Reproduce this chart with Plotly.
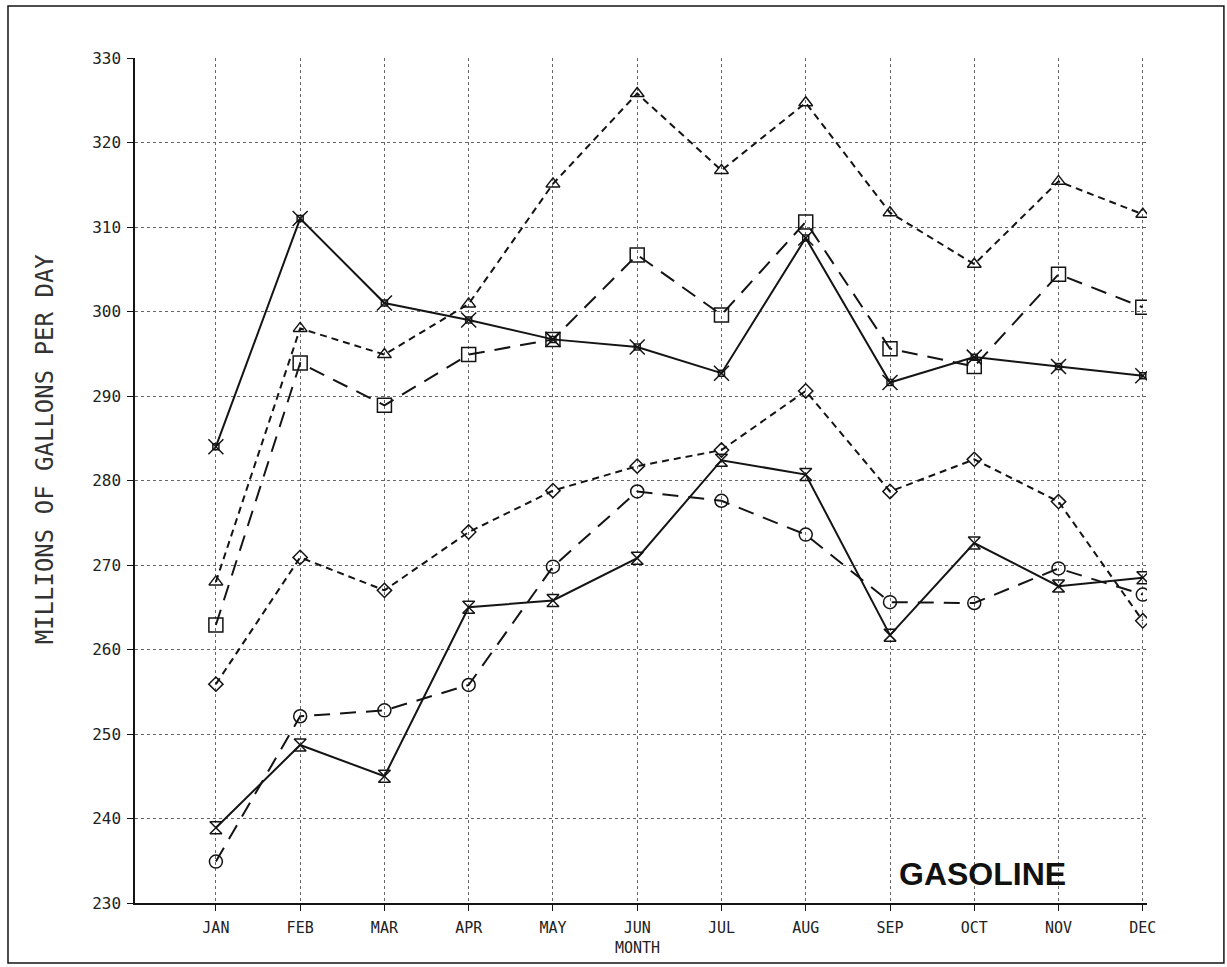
import plotly.graph_objects as go

months = ["JAN", "FEB", "MAR", "APR", "MAY", "JUN", "JUL", "AUG", "SEP", "OCT", "NOV", "DEC"]
month_pos = [1, 2, 3, 4, 5, 6, 7, 8, 9, 10, 11, 12]

star_solid = [284, 311, 301, 299, 296.7, 295.8, 292.7, 308.7, 291.6, 294.6, 293.5, 292.4]
triangle_dash = [268, 298, 294.9, 300.9, 315.1, 325.8, 316.7, 324.7, 311.7, 305.6, 315.4, 311.5]
square_longdash = [262.9, 293.9, 288.9, 294.9, 296.7, 306.7, 299.6, 310.6, 295.6, 293.5, 304.4, 300.5]
diamond_dash = [255.9, 270.9, 267.0, 273.9, 278.8, 281.7, 283.6, 290.6, 278.7, 282.5, 277.5, 263.4]
circle_longdash = [234.9, 252.1, 252.8, 255.8, 269.8, 278.7, 277.6, 273.6, 265.6, 265.5, 269.6, 266.5]
hourglass_solid = [238.9, 248.7, 245.0, 265.0, 265.8, 270.8, 282.4, 280.7, 261.7, 272.6, 267.5, 268.5]

y_ticks = [230, 240, 250, 260, 270, 280, 290, 300, 310, 320, 330]

INK = "#141414"
SHORT = "7px,5px"
LONG = "16px,10px"

fig = go.Figure()

def add(series, dash, symbol, size, name):
    fig.add_trace(go.Scatter(
        x=month_pos, y=series, mode="lines+markers", name=name,
        line=dict(color=INK, width=2, dash=dash),
        marker=dict(symbol=symbol, size=size, color=INK, line=dict(color=INK, width=1.5)),
        showlegend=False,
    ))

add(triangle_dash, SHORT, "triangle-up-open", 12, "triangle")
add(square_longdash, LONG, "square-open", 14, "square")
add(diamond_dash, SHORT, "diamond-open", 11, "diamond")
add(circle_longdash, LONG, "circle-open", 13, "circle")
add(hourglass_solid, "solid", "hourglass-open", 12, "hourglass")
add(star_solid, "solid", "x-thin-open", 15, "star")
fig.add_trace(go.Scatter(
    x=month_pos, y=star_solid, mode="markers", showlegend=False,
    marker=dict(symbol="square-open", size=6, color=INK, line=dict(color=INK, width=1.5)),
))

fig.update_layout(
    width=1227, height=967,
    margin=dict(l=135, r=80, t=58, b=64),
    paper_bgcolor="white", plot_bgcolor="white",
    font=dict(family="DejaVu Sans Mono", size=15, color="#222"),
    xaxis=dict(
        range=[0.04, 12.05], tickmode="array", tickvals=month_pos, ticktext=months,
        showgrid=True, gridcolor="#666", griddash="dot", gridwidth=1,
        showline=True, linecolor=INK, linewidth=1.5,
        ticks="outside", ticklen=6, tickcolor=INK, zeroline=False,
        ticklabelstandoff=4,
        tickfont=dict(family="DejaVu Sans Mono", size=15, color="#222"),
    ),
    yaxis=dict(
        range=[230, 330], tickmode="array", tickvals=y_ticks,
        showgrid=True, gridcolor="#666", griddash="dot", gridwidth=1,
        showline=True, linecolor=INK, linewidth=1.5,
        ticks="outside", ticklen=6, tickcolor=INK, zeroline=False,
        ticklabelstandoff=3,
        tickfont=dict(family="DejaVu Sans Mono", size=16, color="#222"),
    ),
)

fig.add_annotation(
    text="MILLIONS OF GALLONS PER DAY", textangle=-90,
    xref="paper", yref="paper", x=-0.089, y=0.538, showarrow=False,
    xanchor="center", yanchor="middle",
    font=dict(family="DejaVu Sans Mono", size=24, color="#333"),
)
fig.add_annotation(
    text="MONTH", xref="paper", yref="paper", x=0.497, y=-0.053, showarrow=False,
    xanchor="center", yanchor="middle",
    font=dict(family="DejaVu Sans Mono", size=15, color="#222"),
)
fig.add_annotation(
    text="<b>GASOLINE</b>", xref="paper", yref="paper", x=0.837, y=0.034, showarrow=False,
    xanchor="center", yanchor="middle",
    font=dict(family="Liberation Sans", size=32, color="#111"),
)
fig.add_shape(
    type="rect", xref="paper", yref="paper",
    x0=-0.1255, x1=1.076, y0=-0.071, y1=1.0615,
    line=dict(color=INK, width=1.5), fillcolor="rgba(0,0,0,0)",
)

fig.write_html("out.html")
